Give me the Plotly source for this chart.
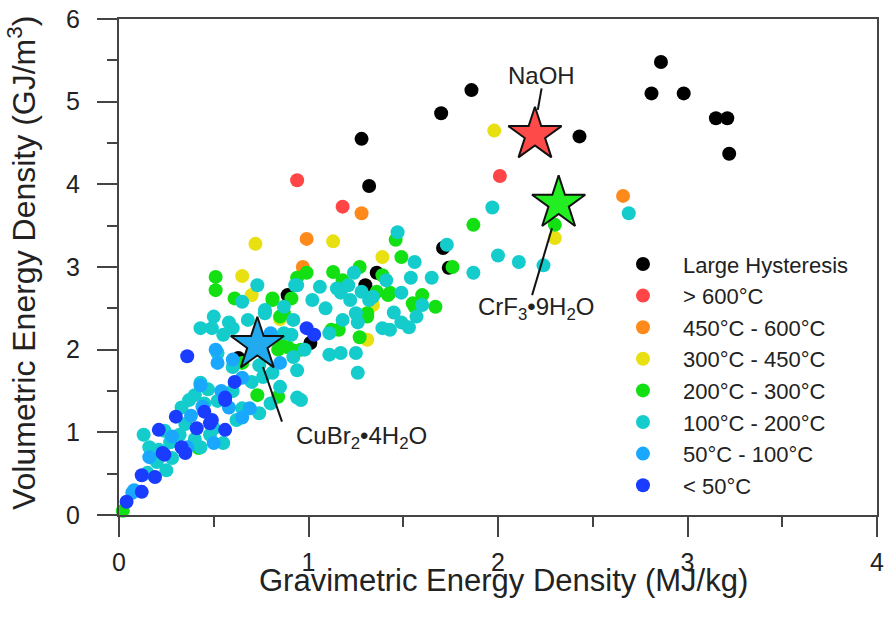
import plotly.graph_objects as go

# ---------------- data ----------------
categories = ["Large Hysteresis", "> 600°C", "450°C - 600°C", "300°C - 450°C",
              "200°C - 300°C", "100°C - 200°C", "50°C - 100°C", "< 50°C"]

hyst_x = [2.86, 2.81, 2.98, 3.15, 3.21, 3.22, 2.43, 1.86, 1.70, 1.28, 1.32, 1.71, 1.74, 1.36, 1.30, 0.89, 1.01, 0.63]
hyst_y = [5.48, 5.10, 5.10, 4.80, 4.80, 4.37, 4.58, 5.14, 4.86, 4.55, 3.98, 3.23, 2.99, 2.93, 2.78, 2.66, 2.08, 1.90]

t600_x = [0.94, 1.18, 2.01]
t600_y = [4.05, 3.73, 4.10]

t450_x = [1.28, 0.99, 2.66, 0.97]
t450_y = [3.65, 3.34, 3.86, 3.00]

t300_x = [1.98, 2.30, 1.13, 1.39, 0.72, 0.65, 0.70, 1.31, 0.85, 1.34]
t300_y = [4.65, 3.35, 3.31, 3.12, 3.28, 2.89, 2.66, 2.12, 2.37, 2.54]

t200_x = [1.87, 2.30, 1.76, 1.46, 1.49, 1.60, 1.27, 1.13, 0.99, 1.43, 1.56, 1.67, 1.39, 1.18,
          0.81, 0.85, 0.91, 1.36, 1.42, 1.31, 1.27, 1.16, 0.85, 0.89, 0.51, 0.51, 0.61, 0.81,
          0.65, 0.73, 0.84, 0.42, 0.02, 0.92, 0.94, 1.55, 0.87, 1.12, 0.96, 0.84, 1.31]
t200_y = [3.51, 3.51, 3.00, 3.33, 3.12, 2.66, 3.00, 2.94, 2.93, 2.69, 2.52, 2.52, 2.90, 2.84,
          2.62, 2.40, 2.62, 2.70, 2.66, 2.40, 2.15, 2.24, 2.14, 2.03, 2.88, 2.72, 2.62, 2.60,
          1.84, 1.45, 1.43, 0.81, 0.05, 1.99, 2.87, 2.56, 2.44, 2.24, 2.00, 2.00, 2.44]

t100_x = [1.97, 2.69, 2.00, 2.11, 2.24, 1.87, 1.73, 1.47, 1.56, 1.65, 1.54, 1.24, 1.06, 1.15,
          1.49, 1.34, 1.60, 1.57, 1.41, 0.94, 1.21, 0.77, 0.87, 0.92, 1.02, 1.09, 1.17, 1.22,
          1.28, 1.32, 1.18, 1.25, 1.26, 1.39, 1.43, 1.11, 0.91, 1.11, 1.17, 1.25, 0.92, 0.98,
          1.26, 0.73, 0.65, 0.93, 0.77, 0.68, 0.58, 0.50, 0.43, 0.49, 0.55, 0.60, 0.87, 0.52,
          0.60, 0.74, 0.94, 0.70, 0.76, 0.81, 0.37, 0.94, 0.43, 0.96, 0.74, 0.65, 0.55, 0.48,
          0.43, 0.28, 0.21, 0.32, 0.15, 0.25, 0.13, 0.16, 0.20, 1.45, 1.53, 1.49, 0.40, 0.47,
          0.52, 0.33, 0.45, 0.60, 0.85, 0.80, 0.35, 0.40, 0.50, 0.62, 0.27, 0.24]
t100_y = [3.72, 3.65, 3.14, 3.06, 3.02, 2.93, 3.27, 3.42, 3.06, 2.87, 2.87, 2.93, 2.76, 2.74,
          2.69, 2.64, 2.54, 2.40, 2.84, 2.78, 2.78, 2.48, 2.52, 2.36, 2.60, 2.50, 2.69, 2.60,
          2.70, 2.60, 2.36, 2.44, 2.33, 2.26, 2.24, 2.20, 2.18, 1.94, 1.96, 1.96, 1.91, 2.00,
          1.72, 2.78, 2.58, 2.78, 2.44, 2.36, 2.33, 2.40, 2.26, 2.26, 2.18, 2.26, 2.20, 1.96,
          1.79, 1.81, 1.75, 1.61, 1.67, 1.72, 1.39, 1.42, 1.60, 1.39, 1.23, 1.29, 0.87, 0.97,
          0.82, 0.69, 0.79, 0.97, 0.51, 0.54, 0.97, 0.82, 0.64, 2.45, 2.27, 2.33, 1.45, 1.52,
          1.38, 1.30, 1.35, 1.50, 1.55, 1.35, 1.10, 0.92, 1.05, 1.15, 0.88, 1.02]

t50_x = [0.85, 0.52, 0.43, 0.65, 0.69, 0.50, 0.16, 0.08, 0.07, 0.51, 0.80, 0.38, 0.54, 0.58,
         0.28, 0.44, 0.65, 0.60, 0.36]
t50_y = [1.84, 1.84, 1.57, 1.66, 1.29, 0.87, 0.70, 0.30, 0.27, 2.00, 2.20, 1.20, 1.50, 1.30,
         0.95, 1.31, 1.18, 1.88, 0.82]

t0_x = [0.36, 0.99, 1.03, 0.61, 0.56, 0.30, 0.21, 0.33, 0.24, 0.12, 0.19, 0.12, 0.04, 0.41,
        0.45, 0.56, 0.56, 0.49, 0.48, 0.35, 0.23]
t0_y = [1.92, 2.26, 2.18, 1.61, 1.42, 1.19, 1.03, 0.82, 0.73, 0.48, 0.46, 0.28, 0.16, 1.05,
        1.25, 1.39, 1.03, 1.15, 1.11, 0.75, 0.75]

star_names = ["NaOH", "CrF<sub>3</sub>•9H<sub>2</sub>O", "CuBr<sub>2</sub>•4H<sub>2</sub>O"]
star_x = [2.195, 2.32, 0.73]
star_y = [4.60, 3.77, 2.06]

# ---------------- styling ----------------
colors = ["#000000", "#ff4545", "#ff8a1c", "#e8e010", "#12e012", "#14cccc", "#1aa8ff", "#1a3cff"]
star_colors = ["#ff4a4a", "#22ee22", "#22aaee"]

series = [(hyst_x, hyst_y), (t600_x, t600_y), (t450_x, t450_y), (t300_x, t300_y),
          (t200_x, t200_y), (t100_x, t100_y), (t50_x, t50_y), (t0_x, t0_y)]

FONT = "Arial, Liberation Sans, sans-serif"
TXT = "#222222"

fig = go.Figure()
for name, col, (xs, ys) in zip(categories, colors, series):
    fig.add_trace(go.Scatter(x=xs, y=ys, mode="markers", name=name,
                             marker=dict(size=14, color=col, line=dict(width=0)),
                             cliponaxis=False))

fig.add_trace(go.Scatter(x=star_x, y=star_y, mode="markers", showlegend=False,
                         marker=dict(symbol="star", size=40, color=star_colors,
                                     line=dict(color="#111111", width=2)),
                         cliponaxis=False))

# annotation labels with leader lines
labels = [
    dict(x=2.23, y=5.32, lx=(2.23, 2.21), ly=(5.16, 4.90)),
    dict(x=2.20, y=2.50, lx=(2.285, 2.18), ly=(3.47, 2.66)),
    dict(x=1.28, y=0.94, lx=(0.76, 0.86), ly=(1.79, 1.13)),
]
for name, lab in zip(star_names, labels):
    fig.add_annotation(x=lab["x"], y=lab["y"], text=name, showarrow=False,
                       font=dict(family=FONT, size=24, color=TXT))
    fig.add_shape(type="line", x0=lab["lx"][0], x1=lab["lx"][1],
                  y0=lab["ly"][0], y1=lab["ly"][1],
                  line=dict(color="#111111", width=2))

# axis titles placed as annotations for exact positioning
fig.add_annotation(xref="paper", yref="paper", x=0.507, y=-0.133,
                   xanchor="center", yanchor="middle",
                   text="Gravimetric Energy Density (MJ/kg)", showarrow=False,
                   font=dict(family=FONT, size=31, color=TXT))
fig.add_annotation(xref="paper", yref="paper", x=-0.128, y=0.508, textangle=-90,
                   xanchor="center", yanchor="middle",
                   text="Volumetric Energy Density (GJ/m<sup>3</sup>)", showarrow=False,
                   font=dict(family=FONT, size=32, color=TXT))

axis_common = dict(showgrid=False, zeroline=False, showline=True, linecolor="#444444",
                   linewidth=2, mirror=True, ticks="outside", ticklen=20, tickwidth=2,
                   tickcolor="#444444",
                   tickfont=dict(family=FONT, size=25, color=TXT))

fig.update_xaxes(range=[0, 4], dtick=1, tick0=0, ticklabelstandoff=4,
                 minor=dict(dtick=0.5, ticks="outside", ticklen=10, tickwidth=2,
                            tickcolor="#444444"),
                 **axis_common)
fig.update_yaxes(range=[0, 6], dtick=1, tick0=0, ticklabelstandoff=12,
                 minor=dict(dtick=0.5, ticks="outside", ticklen=10, tickwidth=2,
                            tickcolor="#444444"),
                 **axis_common)

fig.update_layout(
    width=886, height=619,
    margin=dict(l=119, r=9, t=19, b=104, autoexpand=False),
    paper_bgcolor="white", plot_bgcolor="white",
    showlegend=True,
    legend=dict(x=0.6385, y=0.548, xanchor="left", yanchor="top",
                font=dict(family=FONT, size=22, color=TXT),
                bgcolor="rgba(0,0,0,0)", tracegroupgap=0, itemwidth=70),
)

fig.write_html("out.html", config={"displayModeBar": False},
               post_script="document.body.style.margin='0';")
